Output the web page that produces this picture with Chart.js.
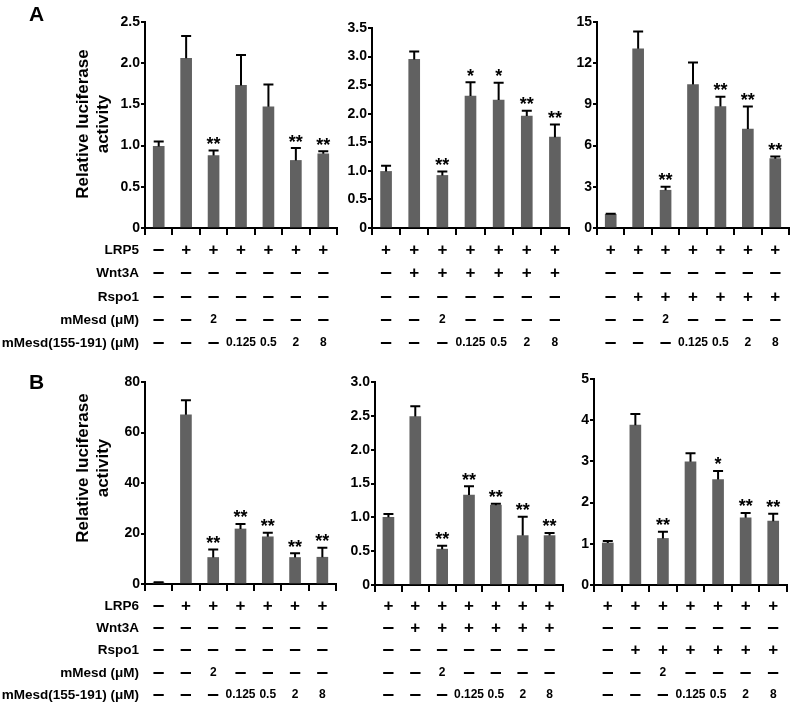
<!DOCTYPE html>
<html>
<head>
<meta charset="utf-8">
<script src="https://cdn.jsdelivr.net/npm/chart.js@4/dist/chart.umd.min.js"></script>
<style>
  html, body { margin: 0; padding: 0; background: #fff; }
  #wrap { position: relative; width: 793px; height: 706px; }
  #wrap canvas { position: absolute; left: 0; top: 0; }
</style>
</head>
<body>
<div id="wrap">
  <canvas id="a1" width="793" height="706"></canvas>
  <canvas id="a2" width="793" height="706"></canvas>
  <canvas id="a3" width="793" height="706"></canvas>
  <canvas id="b1" width="793" height="706"></canvas>
  <canvas id="b2" width="793" height="706"></canvas>
  <canvas id="b3" width="793" height="706"></canvas>
</div>
<script>
// ---- data ----
const groups = ['1', '2', '3', '4', '5', '6', '7'];

const a1Mean = [0.99, 2.06, 0.88, 1.73, 1.47, 0.82, 0.90];
const a1Err  = [0.06, 0.27, 0.06, 0.37, 0.27, 0.15, 0.03];
const a1Stars = ['', '', '**', '', '', '**', '**'];

const a2Mean = [0.99, 2.95, 0.92, 2.31, 2.24, 1.96, 1.59];
const a2Err  = [0.10, 0.14, 0.07, 0.24, 0.30, 0.09, 0.22];
const a2Stars = ['', '', '**', '*', '*', '**', '**'];

const a3Mean = [1.0, 13.05, 2.75, 10.45, 8.85, 7.2, 5.05];
const a3Err  = [0.03, 1.25, 0.25, 1.6, 0.7, 1.65, 0.15];
const a3Stars = ['', '', '**', '', '**', '**', '**'];

const b1Mean = [0.5, 67, 10.5, 21.8, 18.7, 10.5, 10.6];
const b1Err  = [0.2, 5.8, 3.2, 2.0, 1.6, 1.7, 3.8];
const b1Stars = ['', '', '**', '**', '**', '**', '**'];

const b2Mean = [1.0, 2.49, 0.53, 1.33, 1.18, 0.73, 0.73];
const b2Err  = [0.05, 0.15, 0.05, 0.13, 0.02, 0.28, 0.04];
const b2Stars = ['', '', '**', '**', '**', '**', '**'];

const b3Mean = [1.02, 3.88, 1.13, 2.99, 2.56, 1.63, 1.55];
const b3Err  = [0.05, 0.27, 0.16, 0.21, 0.21, 0.12, 0.18];
const b3Stars = ['', '', '**', '', '*', '**', '**'];

// treatment table rows
const allPlus    = ['+', '+', '+', '+', '+', '+', '+'];
const allMinus   = ['–', '–', '–', '–', '–', '–', '–'];
const firstMinus = ['–', '+', '+', '+', '+', '+', '+'];
const mesdRow    = ['–', '–', '2', '–', '–', '–', '–'];
const peptideRow = ['–', '–', '–', '0.125', '0.5', '2', '8'];
const rowLabelsA = ['LRP5', 'Wnt3A', 'Rspo1', 'mMesd (μM)', 'mMesd(155-191) (μM)'];
const rowLabelsB = ['LRP6', 'Wnt3A', 'Rspo1', 'mMesd (μM)', 'mMesd(155-191) (μM)'];

const FONT = "'Liberation Sans', Arial, sans-serif";
const BAR_COLOR = '#616161';

// Disegna barre d'errore, asterischi, tabella e titoli
function makeExtras(cfg) {
  return {
    id: 'extras',
    afterDatasetsDraw(chart) {
      const ctx = chart.ctx;
      const xs = chart.scales.x, ys = chart.scales.y;
      const meta = chart.getDatasetMeta(0);
      const vals = chart.data.datasets[0].data;
      ctx.save();
      ctx.strokeStyle = '#000';
      ctx.fillStyle = '#000';
      ctx.lineWidth = 2;
      cfg.err.forEach((e, i) => {
        const cx = meta.data[i].x;
        const y0 = ys.getPixelForValue(vals[i]);
        const y1 = ys.getPixelForValue(vals[i] + e);
        ctx.beginPath();
        ctx.moveTo(cx, y0);
        ctx.lineTo(cx, y1);
        ctx.moveTo(cx - 5, y1);
        ctx.lineTo(cx + 5, y1);
        ctx.stroke();
        if (cfg.stars[i]) {
          ctx.font = 'bold 18px ' + FONT;
          ctx.textAlign = 'center';
          ctx.textBaseline = 'alphabetic';
          ctx.fillText(cfg.stars[i], cx, y1 - 0.5);
        }
      });

      // tabella trattamenti
      ctx.textBaseline = 'middle';
      cfg.rows.forEach((row, r) => {
        const yy = cfg.rowY[r];
        row.forEach((txt, i) => {
          const cx = xs.getPixelForValue(i);
          ctx.textAlign = 'center';
          if (txt === '+') ctx.font = 'bold 17px ' + FONT;
          else if (txt === '–') ctx.font = 'bold 21px ' + FONT;
          else ctx.font = 'bold 12px ' + FONT;
          ctx.fillText(txt, cx, txt === '–' ? yy - 1 : yy);
        });
        if (cfg.labels) {
          ctx.textAlign = 'right';
          ctx.font = 'bold 13.5px ' + FONT;
          ctx.fillText(cfg.labels[r], 139, yy);
        }
      });

      // titolo asse Y e lettera del pannello
      if (cfg.title) {
        ctx.save();
        ctx.translate(0, cfg.titleY);
        ctx.rotate(-Math.PI / 2);
        ctx.textAlign = 'center';
        ctx.textBaseline = 'middle';
        ctx.font = 'bold 17px ' + FONT;
        ctx.fillText('Relative luciferase', 0, 83);
        ctx.fillText('activity', 0, 103);
        ctx.restore();
        ctx.textAlign = 'left';
        ctx.textBaseline = 'alphabetic';
        ctx.font = 'bold 21px ' + FONT;
        ctx.fillText(cfg.letter, 29, cfg.letterY);
      }
      ctx.restore();
    }
  };
}

function makePanel(id, area, mean, err, stars, yMax, step, dec, rows, rowY, extra) {
  const cfg = Object.assign({ err: err, stars: stars, rows: rows, rowY: rowY }, extra || {});
  return new Chart(document.getElementById(id), {
    type: 'bar',
    data: {
      labels: groups,
      datasets: [{
        data: mean,
        backgroundColor: BAR_COLOR,
        borderWidth: 0,
        barThickness: 11
      }]
    },
    options: {
      responsive: false,
      animation: false,
      layout: {
        padding: {
          left: area.left - 30,
          top: area.top,
          right: 793 - area.right,
          bottom: 706 - area.bottom - 8
        }
      },
      plugins: { legend: { display: false }, tooltip: { enabled: false } },
      scales: {
        x: {
          offset: true,
          afterFit: s => { s.height = 8; },
          border: { display: true, color: '#000', width: 2 },
          grid: { offset: true, drawOnChartArea: false, drawTicks: true, tickLength: 7, color: '#000', lineWidth: 2 },
          ticks: { display: false }
        },
        y: {
          min: 0,
          max: yMax,
          afterFit: s => { s.width = 30; },
          border: { display: true, color: '#000', width: 2 },
          grid: { drawOnChartArea: false, drawTicks: true, tickLength: 4, color: '#000', lineWidth: 2 },
          ticks: {
            stepSize: step,
            color: '#000',
            padding: 1,
            font: { family: FONT, size: 14, weight: 'bold' },
            callback: v => v === 0 ? '0' : v.toFixed(dec)
          }
        }
      }
    },
    plugins: [makeExtras(cfg)]
  });
}

const rowYA = [250, 273, 297, 320, 343];
const rowYB = [606, 628, 650, 673, 695];

makePanel('a1', { left: 145, right: 337, top: 22, bottom: 228 }, a1Mean, a1Err, a1Stars, 2.5, 0.5, 1,
  [firstMinus, allMinus, allMinus, mesdRow, peptideRow], rowYA,
  { labels: rowLabelsA, title: true, titleY: 124, letter: 'A', letterY: 21 });
makePanel('a2', { left: 372, right: 569, top: 28, bottom: 228 }, a2Mean, a2Err, a2Stars, 3.5, 0.5, 1,
  [allPlus, firstMinus, allMinus, mesdRow, peptideRow], rowYA);
makePanel('a3', { left: 597, right: 789, top: 22, bottom: 228 }, a3Mean, a3Err, a3Stars, 15, 3, 0,
  [allPlus, allMinus, firstMinus, mesdRow, peptideRow], rowYA);

makePanel('b1', { left: 145, right: 336, top: 382, bottom: 584 }, b1Mean, b1Err, b1Stars, 80, 20, 0,
  [firstMinus, allMinus, allMinus, mesdRow, peptideRow], rowYB,
  { labels: rowLabelsB, title: true, titleY: 468, letter: 'B', letterY: 389 });
makePanel('b2', { left: 375, right: 563, top: 382, bottom: 585 }, b2Mean, b2Err, b2Stars, 3.0, 0.5, 1,
  [allPlus, firstMinus, allMinus, mesdRow, peptideRow], rowYB);
makePanel('b3', { left: 594, right: 787, top: 379, bottom: 585 }, b3Mean, b3Err, b3Stars, 5, 1, 0,
  [allPlus, allMinus, firstMinus, mesdRow, peptideRow], rowYB);
</script>
</body>
</html>
